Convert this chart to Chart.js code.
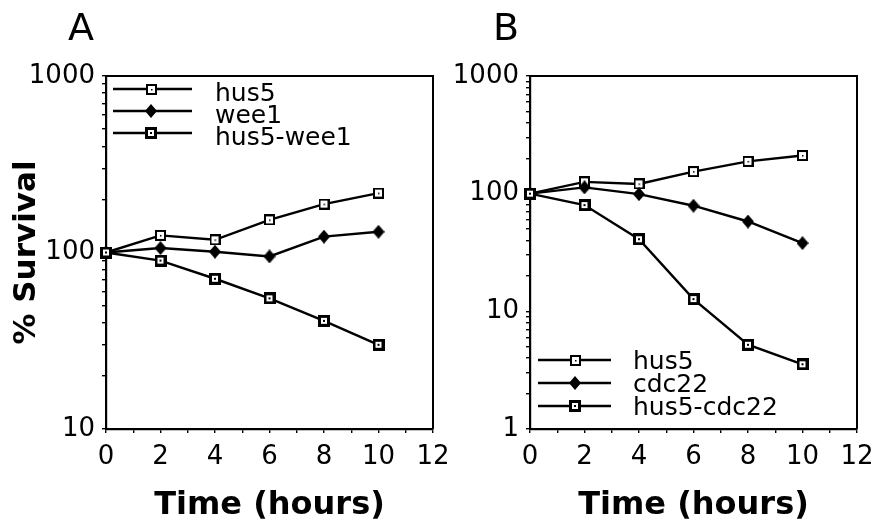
<!DOCTYPE html>
<html><head><meta charset="utf-8">
<script src="https://cdn.jsdelivr.net/npm/chart.js@4.4.1/dist/chart.umd.min.js"></script>
<style>
html,body{margin:0;padding:0;background:#fff;}
#wrap{position:relative;width:891px;height:527px;background:#fff;}
canvas{position:absolute;left:0;top:0;}
</style></head><body>
<div id="wrap"><canvas id="a" width="891" height="527"></canvas><canvas id="b" width="891" height="527"></canvas></div>
<script>
// ---- data ----
const hours = [0, 2, 4, 6, 8, 10];
const hus5A = [100, 125, 118, 153, 188, 217];
const wee1A = [100, 106, 101, 95, 123, 131];
const hus5wee1A = [100, 90, 71, 55, 41, 30];
const hus5B = [100, 126, 121, 154, 188, 211];
const cdc22B = [100, 113, 99, 79, 58, 38];
const hus5cdc22B = [100, 80, 41, 12.7, 5.2, 3.55];
const labelsA = ['hus5', 'wee1', 'hus5-wee1'];
const labelsB = ['hus5', 'cdc22', 'hus5-cdc22'];
const xTickLabels = ['0', '2', '4', '6', '8', '10', '12'];
const yTickLabelsA = ['10', '100', '1000'];
const yTickLabelsB = ['1', '10', '100', '1000'];

// ---- markers ----
function openSquare(){ const c=document.createElement('canvas'); c.width=11;c.height=11; const g=c.getContext('2d');
  g.fillStyle='#000'; g.fillRect(0,0,11,11); g.fillStyle='#fff'; g.fillRect(2,2,7,7);
  g.fillStyle='#000'; g.fillRect(5,5,1.5,1.5); return c; }
function boldSquare(){ const c=document.createElement('canvas'); c.width=12;c.height=12; const g=c.getContext('2d');
  g.fillStyle='#000'; g.fillRect(0,0,12,12); g.fillStyle='#fff'; g.fillRect(3,3,6,6); g.fillStyle='#000'; g.fillRect(5,5,2,2); return c; }
function diamond(){ const c=document.createElement('canvas'); c.width=12;c.height=14; const g=c.getContext('2d');
  g.fillStyle='#000'; g.beginPath(); g.moveTo(6,0); g.lineTo(12,7); g.lineTo(6,14); g.lineTo(0,7); g.closePath(); g.fill(); return c; }
const markers = [openSquare(), diamond(), boldSquare()];

function logTicks(min, max){ const t=[]; for(let d=min; d<max; d*=10){ for(let k=1;k<10;k++) t.push(d*k); } t.push(max); return t; }
const xTickValues = []; for(let i=0;i<=12;i++) xTickValues.push(i);

const decor = {
  id:'decor',
  beforeDatasetsDraw(chart, args, o){
    const {ctx, chartArea:a} = chart;
    ctx.save(); ctx.strokeStyle='#000'; ctx.lineWidth=2;
    ctx.beginPath(); ctx.moveTo(a.left, a.top); ctx.lineTo(a.right, a.top); ctx.lineTo(a.right, a.bottom); ctx.stroke();
    ctx.fillStyle='#000'; ctx.font='38px "DejaVu Sans"'; ctx.textBaseline='alphabetic'; ctx.textAlign='left';
    ctx.fillText(o.letter, o.lx, o.ly);
    ctx.restore();
  },
  afterDatasetsDraw(chart, args, o){
    const ctx = chart.ctx; ctx.save();
    chart.data.datasets.forEach((ds, i) => {
      const y = o.y0 + i*o.dy;
      ctx.strokeStyle='#000'; ctx.lineWidth=2.4; ctx.beginPath(); ctx.moveTo(o.x1, y); ctx.lineTo(o.x2, y); ctx.stroke();
      const m = ds.pointStyle; ctx.drawImage(m, Math.round(o.mx - m.width/2), Math.round(y - m.height/2));
      ctx.fillStyle='#000'; ctx.font='25px "DejaVu Sans"'; ctx.textBaseline='alphabetic'; ctx.textAlign='left';
      ctx.fillText(ds.label, o.tx, y + o.base);
    });
    ctx.restore();
  }
};

function makeDatasets(labels, series){
  return series.map((s, i) => ({
    label: labels[i],
    data: hours.map((h, j) => ({x: h, y: s[j]})),
    borderColor:'#000', backgroundColor:'#000', borderWidth:2.4,
    pointStyle: markers[i], pointRadius:6, pointHoverRadius:6,
    tension:0, fill:false, clip:false, order: series.length - 1 - i
  }));
}

const tickFont = {family:'DejaVu Sans', size:26};
const titleFont = {family:'DejaVu Sans', size:32, weight:'bold'};
const gridOpt = {drawOnChartArea:false, drawTicks:true, tickLength:4, color:'#000', lineWidth:1.4};
const borderOpt = {display:true, color:'#000', width:2.2};

function makeChart(id, labels, series, yMin, yMax, yLabels, yWidth, pad, yTitle, deco){
  return new Chart(document.getElementById(id), {
    type:'line',
    data:{datasets: makeDatasets(labels, series)},
    options:{
      responsive:false, animation:false, events:[],
      layout:{padding:pad},
      plugins:{legend:{display:false}, tooltip:{enabled:false}, decor:deco},
      scales:{
        x:{type:'linear', min:0, max:12,
          afterBuildTicks(s){ s.ticks = xTickValues.map(v=>({value:v})); },
          afterFit(s){ s.height = 98; s.paddingLeft = 0; s.paddingRight = 0; },
          ticks:{autoSkip:false, maxRotation:0, minRotation:0, padding:9, font:tickFont, color:'#000',
            callback:(v)=> xTickLabels.includes(String(v)) ? String(v) : ''},
          grid:gridOpt, border:borderOpt,
          title:{display:true, text:'Time (hours)', font:titleFont, color:'#000', padding:{top:0,bottom:2}}
        },
        y:{type:'logarithmic', min:yMin, max:yMax,
          afterBuildTicks(s){ s.ticks = logTicks(yMin, yMax).map(v=>({value:v})); },
          afterFit(s){ s.width = yWidth; s.paddingTop = 0; s.paddingBottom = 0; },
          ticks:{autoSkip:false, padding:7, font:tickFont, color:'#000',
            callback:(v)=> yLabels.includes(String(v)) ? String(v) : ''},
          grid:gridOpt, border:borderOpt,
          title:{display: !!yTitle, text: yTitle || '', font:{family:'DejaVu Sans', size:31, weight:'bold'}, color:'#000', padding:{top:8,bottom:0}}
        }
      }
    },
    plugins:[decor]
  });
}

makeChart('a', labelsA, [hus5A, wee1A, hus5wee1A], 10, 1000, yTickLabelsA, 106,
  {left:0, top:76, right:891-433, bottom:0}, '% Survival',
  {letter:'A', lx:68, ly:40, x1:113, x2:192, mx:151, tx:215, y0:89, dy:22, base:12});
makeChart('b', labelsB, [hus5B, cdc22B, hus5cdc22B], 1, 1000, yTickLabelsB, 100,
  {left:430, top:76, right:891-857, bottom:0}, null,
  {letter:'B', lx:493, ly:40, x1:538, x2:611, mx:575, tx:633, y0:360, dy:23, base:9});
</script>
</body></html>
